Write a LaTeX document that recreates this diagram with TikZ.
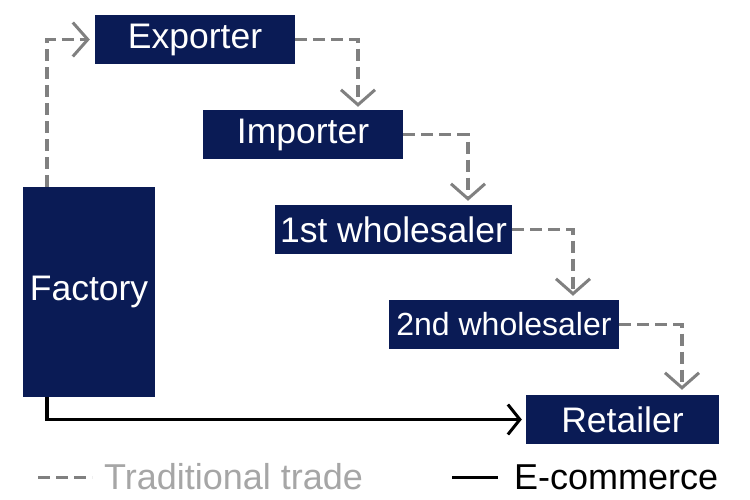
\documentclass[tikz,border=0pt]{standalone}
\usepackage{fontspec}
\setmainfont{Liberation Sans}
\usetikzlibrary{arrows.meta,calc}
\definecolor{navy}{RGB}{10,27,85}
\definecolor{dashgray}{RGB}{128,128,128}
\definecolor{leggray}{RGB}{166,166,166}
\tikzset{
  actor/.style={rectangle, fill=navy, text=white, inner sep=0pt, font=\fontsize{35.5}{36}\selectfont},
  trad/.style={draw=dashgray, line width=3.5pt, dash pattern=on 12pt off 6pt,
    -{Straight Barb[length=15pt,width=34pt,line width=3pt]}},
  ecom/.style={draw=black, line width=3.5pt,
    -{Straight Barb[length=12pt,width=30pt,line width=3pt]}},
  legtext/.style={anchor=west, inner sep=0pt, font=\fontsize{36}{36}\selectfont}
}
\begin{document}
\begin{tikzpicture}[x=1pt,y=-1pt]
\useasboundingbox (0,0) rectangle (750,500);
\node[actor, minimum width=200pt, minimum height=49pt] (exporter) at (195,39.5) {Exporter};
\node[actor, minimum width=200pt, minimum height=49pt] (importer) at (303,134.5) {Importer};
\node[actor, minimum width=237pt, minimum height=49pt] (w1) at (393.5,229.5) {1st wholesaler};
\node[actor, minimum width=230pt, minimum height=49pt, font=\fontsize{32}{32}\selectfont] (w2) at (504,324.5) {2nd wholesaler};
\node[actor, minimum width=193pt, minimum height=49pt] (retailer) at (622.5,419.5) {Retailer};
\node[actor, minimum width=132pt, minimum height=210pt] (factory) at (89,292) {Factory};
% traditional trade
\draw[trad, shorten >=5pt] ($(factory.north west)+(24,0)$) |- (exporter.west);
\draw[trad, shorten >=3pt] (exporter.east) -| ($(importer.north)+(55,0)$);
\draw[trad, shorten >=4pt] (importer.east) -| ($(w1.north)+(74.5,0)$);
\draw[trad, shorten >=4pt] (w1.east) -| ($(w2.north)+(69,0)$);
\draw[trad, shorten >=5pt] (w2.east) -| ($(retailer.north)+(59.5,0)$);
% e-commerce
\draw[ecom, shorten >=4pt] ($(factory.south west)+(24,0)$) |- (retailer.west);
% legend
\coordinate (l1a) at (38,477);
\coordinate (l1b) at (92,477);
\draw[draw=dashgray, line width=3pt, dash pattern=on 12pt off 6pt] (l1a) -- (l1b);
\node[legtext, text=leggray] (ltrad) at (104,477) {Traditional trade};
\coordinate (l2a) at (452,477);
\coordinate (l2b) at (498,477);
\draw[line width=3pt] (l2a) -- (l2b);
\node[legtext, text=black] (lecom) at (514,477) {E-commerce};
\end{tikzpicture}
\end{document}
